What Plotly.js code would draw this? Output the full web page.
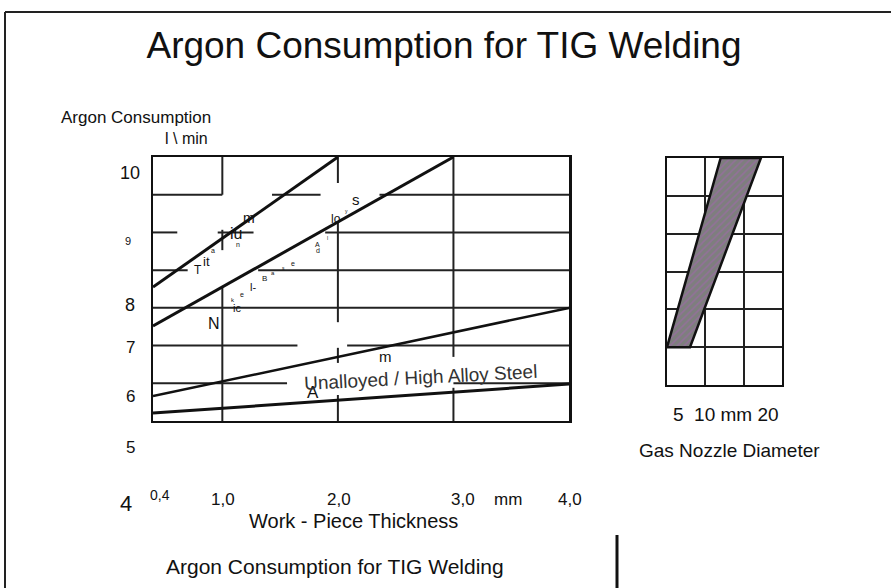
<!DOCTYPE html>
<html><head><meta charset="utf-8">
<script src="https://cdn.plot.ly/plotly-3.0.1.min.js"></script>
<style>html,body{margin:0;padding:0;background:#fff}#chart{width:891px;height:588px}</style>
</head><body><div id="chart"></div>
<script>
// ---------------- data ----------------
const chartTitle = 'Argon Consumption for TIG Welding';
const yTitleLines = ['Argon Consumption', 'l \\ min'];
const xTitle = 'Work - Piece Thickness';
const nozzleTitle = 'Gas Nozzle Diameter';
const nozzleTickText = '5  10 mm 20';
const steelLabel = 'Unalloyed / High Alloy Steel';

// work-piece thickness (mm) vs argon consumption (l/min)
const titaniumX = [0.4, 2.0];
const titaniumY = [8.55, 12.0];
const nickelX = [0.4, 3.0];
const nickelY = [7.52, 12.0];
const aluminiumX = [0.4, 4.0];
const aluminiumY = [5.66, 8.0];
const steelX = [0.4, 4.0];
const steelY = [5.21, 5.98];

// gas nozzle band (grid units)
const nozzleBandX = [0, 1.4, 2.45, 0.6, 0];
const nozzleBandY = [7, 12, 12, 7, 7];

const yTickLabels = ['10', '9', '8', '7', '6', '5', '4'];
const xTickLabels = ['0,4', '1,0', '2,0', '3,0', 'mm', '4,0'];
const curveLetters = ['T', 'it', 'a', 'iu', 'n', 'm', 'N', 'ic', 'k', 'e', 'l-', 'B', 'a', 's', 'e', 'A', 'd', 'l', 'lo', 'y', 's', 'm', 'A'];

// broken grid lines of the scanned chart (value, segments)
const gridXValues = [1.0, 2.0, 3.0];
const gridXSegments = [
  [[11.0, 12], [9.53, 10.07], [5, 8.53]],
  [[11.31, 12], [7.62, 10.28], [6.54, 6.94], [5, 5.69]],
  [[6.70, 12], [5, 5.88]]
];
const gridYValues = [11, 10, 9, 8, 7, 6];
const gridYSegments = [
  [[0.4, 1.0], [1.43, 1.85], [2.36, 4.0]],
  [[0.4, 0.61], [0.96, 1.27], [1.89, 4.0]],
  [[0.4, 0.70], [1.31, 4.0]],
  [[0.4, 4.0]],
  [[0.4, 1.65], [2.08, 4.0]],
  [[0.4, 1.56], [3.0, 4.0]]
];

// ---------------- layout helpers ----------------
const W = 891, H = 588;
const px = v => v / W;
const py = v => 1 - v / H;
const FONT = 'Liberation Sans, Arial, sans-serif';
const INK = '#111';

const gx = [], gy = [];
gridXValues.forEach((xv, i) => gridXSegments[i].forEach(s => { gx.push(xv, xv, null); gy.push(s[0], s[1], null); }));
gridYValues.forEach((yv, i) => gridYSegments[i].forEach(s => { gx.push(s[0], s[1], null); gy.push(yv, yv, null); }));

const lineStyle = {color: INK, width: 3};
const traces = [
  {x: gx, y: gy, mode: 'lines', line: {color: '#222', width: 2}, hoverinfo: 'skip', xaxis: 'x', yaxis: 'y'},
  {x: titaniumX, y: titaniumY, mode: 'lines', line: lineStyle, name: 'Titanium', xaxis: 'x', yaxis: 'y'},
  {x: nickelX, y: nickelY, mode: 'lines', line: lineStyle, name: 'Nickel-Base Alloys', xaxis: 'x', yaxis: 'y'},
  {x: aluminiumX, y: aluminiumY, mode: 'lines', line: {color: INK, width: 2.5}, name: 'Aluminium', xaxis: 'x', yaxis: 'y'},
  {x: steelX, y: steelY, mode: 'lines', line: lineStyle, name: 'Unalloyed / High Alloy Steel', xaxis: 'x', yaxis: 'y'},
  {x: nozzleBandX, y: nozzleBandY, mode: 'lines', fill: 'toself',
   fillcolor: '#807a82',
   fillpattern: {shape: '/', fgcolor: '#93709a', bgcolor: '#7e7e7e', size: 5, solidity: 0.3},
   line: {color: INK, width: 2.5}, xaxis: 'x2', yaxis: 'y2'}
];

const ann = [];
function txt(text, x, y, size, extra) {
  ann.push(Object.assign({text: text, x: px(x), y: py(y), xref: 'paper', yref: 'paper', showarrow: false,
    xanchor: 'center', yanchor: 'middle', font: {family: FONT, size: size, color: INK}}, extra || {}));
}
// y axis title
txt(yTitleLines[0], 136, 117, 17);
txt(yTitleLines[1], 186, 138, 16);
// y tick labels
const yTickPos = [[130, 173, 18], [128, 241, 11], [130, 305, 18], [130, 347, 17], [130, 396, 17], [130, 447, 17], [126, 503, 22]];
yTickLabels.forEach((t, i) => txt(t, yTickPos[i][0], yTickPos[i][1], yTickPos[i][2]));
// x tick labels
const xTickPos = [[160, 495, 14], [223, 500, 17], [339, 500, 17], [463, 500, 17], [508, 500, 17], [570, 500, 17]];
xTickLabels.forEach((t, i) => txt(t, xTickPos[i][0], xTickPos[i][1], xTickPos[i][2]));
txt(xTitle, 353, 521, 20);
txt(chartTitle, 335, 566, 21);
// nozzle texts
txt(nozzleTickText, 726, 414, 19);
txt(nozzleTitle, 729, 450, 19);
// scattered letters of the scanned curve labels
const letterPos = [
  [198, 270, 12], [206, 261, 13], [213, 251, 7], [236, 233, 16], [238, 244, 7], [249, 218, 14],
  [214, 323, 16], [237, 308, 11], [233, 300, 6], [242, 294, 7], [253, 287, 11], [264, 278, 8],
  [273, 273, 6], [283, 268, 5], [293, 263, 7], [317, 244, 7], [318, 251, 7], [327, 238, 5],
  [336, 219, 12], [346, 211, 5], [356, 199, 15], [385, 356, 15], [313, 392, 17]
];
curveLetters.forEach((t, i) => txt(t, letterPos[i][0], letterPos[i][1], letterPos[i][2]));
txt(steelLabel, 420, 377, 19, {textangle: -3, font: {family: FONT, size: 19, color: '#333'}});

const axisBase = {showgrid: false, zeroline: false, showticklabels: false, ticks: '',
  showline: true, mirror: true, linecolor: INK, linewidth: 2, fixedrange: true};

const layout = {
  width: W, height: H, margin: {l: 0, r: 0, t: 0, b: 0},
  paper_bgcolor: '#fff', plot_bgcolor: '#fff', showlegend: false,
  title: {text: chartTitle, x: px(444), xanchor: 'center', y: py(45), yanchor: 'middle', yref: 'container',
    font: {family: FONT, size: 37, color: INK}},
  xaxis: Object.assign({}, axisBase, {domain: [px(153), px(569)], range: [0.4, 4.0], anchor: 'y'}),
  yaxis: Object.assign({}, axisBase, {domain: [py(421), py(157)], range: [5, 12], anchor: 'x', linewidth: 2.5}),
  xaxis2: Object.assign({}, axisBase, {domain: [px(667), px(782)], range: [0, 3], anchor: 'y2',
    showgrid: true, dtick: 1, tick0: 0, gridcolor: '#222', gridwidth: 2}),
  yaxis2: Object.assign({}, axisBase, {domain: [py(385), py(158)], range: [6, 12], anchor: 'x2',
    showgrid: true, dtick: 1, tick0: 6, gridcolor: '#222', gridwidth: 2}),
  annotations: ann,
  shapes: [
    {type: 'line', xref: 'paper', yref: 'paper', x0: px(5), x1: 1, y0: py(12), y1: py(12), line: {color: '#222', width: 2}},
    {type: 'line', xref: 'paper', yref: 'paper', x0: px(5), x1: px(5), y0: py(12), y1: 0, line: {color: '#222', width: 2}},
    {type: 'line', xref: 'paper', yref: 'paper', x0: px(617), x1: px(617), y0: py(535), y1: 0, line: {color: INK, width: 3}}
  ]
};

Plotly.newPlot('chart', traces, layout, {displayModeBar: false, staticPlot: true});
</script>
</body></html>
